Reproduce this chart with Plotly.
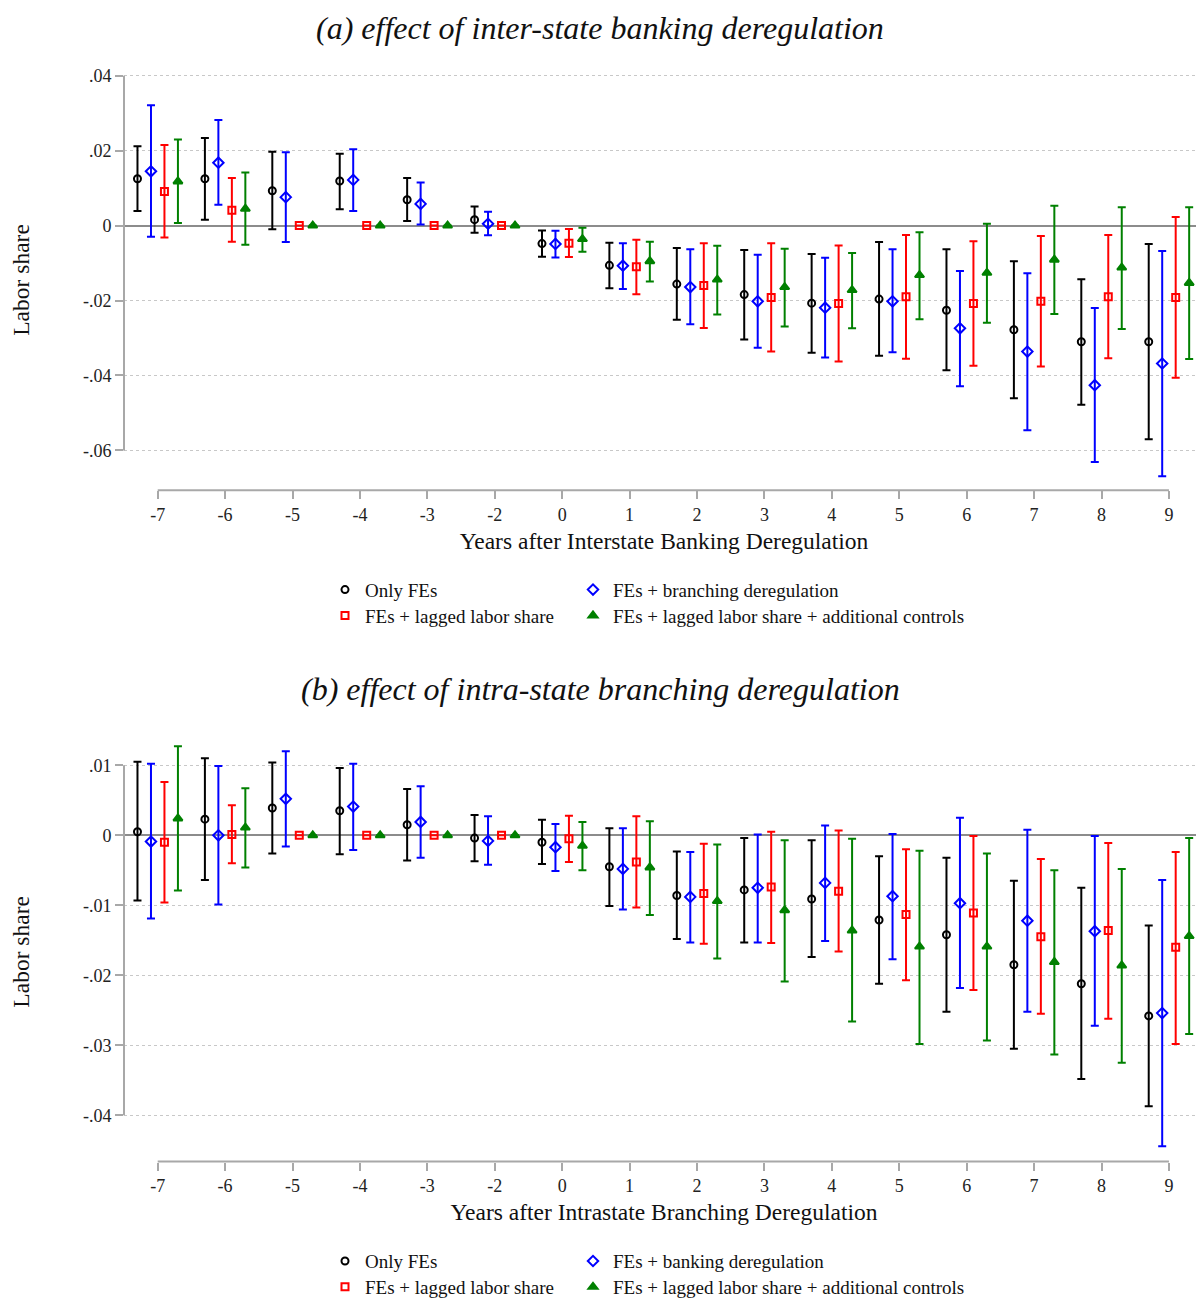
import plotly.graph_objects as go

# ---------------- data ----------------
labels = ["-7", "-6", "-5", "-4", "-3", "-2", "0", "1", "2", "3", "4", "5", "6", "7", "8", "9"]

# panel (a): inter-state banking deregulation
a_black = [0.0125, 0.0125, 0.0093, 0.0119, 0.0069, 0.0016, -0.0048, -0.0106, -0.0156, -0.0184, -0.0207, -0.0196, -0.0226, -0.0278, -0.0310, -0.0310]
a_black_lo = [0.0039, 0.0016, -0.0010, 0.0044, 0.0012, -0.0019, -0.0083, -0.0167, -0.0251, -0.0304, -0.0339, -0.0347, -0.0386, -0.0461, -0.0478, -0.0570]
a_black_hi = [0.0212, 0.0234, 0.0197, 0.0192, 0.0127, 0.0051, -0.0013, -0.0046, -0.0060, -0.0065, -0.0076, -0.0044, -0.0063, -0.0095, -0.0143, -0.0049]

a_blue = [0.0145, 0.0168, 0.0076, 0.0122, 0.0058, 0.0005, -0.0049, -0.0107, -0.0164, -0.0202, -0.0219, -0.0202, -0.0274, -0.0336, -0.0426, -0.0368]
a_blue_lo = [-0.0030, 0.0056, -0.0044, 0.0039, 0.0003, -0.0026, -0.0085, -0.0169, -0.0263, -0.0326, -0.0352, -0.0338, -0.0429, -0.0546, -0.0631, -0.0669]
a_blue_hi = [0.0321, 0.0282, 0.0196, 0.0204, 0.0115, 0.0037, -0.0014, -0.0047, -0.0063, -0.0078, -0.0086, -0.0063, -0.0121, -0.0127, -0.0220, -0.0068]

a_red = [0.0091, 0.0041, 0.0, 0.0, 0.0, 0.0, -0.0047, -0.0110, -0.0160, -0.0192, -0.0208, -0.0190, -0.0208, -0.0202, -0.0190, -0.0192]
a_red_lo = [-0.0032, -0.0043, None, None, None, None, -0.0084, -0.0183, -0.0273, -0.0336, -0.0363, -0.0355, -0.0374, -0.0376, -0.0354, -0.0406]
a_red_hi = [0.0215, 0.0127, None, None, None, None, -0.0009, -0.0038, -0.0047, -0.0047, -0.0053, -0.0025, -0.0042, -0.0028, -0.0025, 0.0023]

a_green = [0.0118, 0.0045, 0.0, 0.0, 0.0, 0.0, -0.0036, -0.0095, -0.0144, -0.0164, -0.0172, -0.0132, -0.0126, -0.0091, -0.0112, -0.0153]
a_green_lo = [0.0007, -0.0051, None, None, None, None, -0.0070, -0.0149, -0.0237, -0.0269, -0.0274, -0.0250, -0.0259, -0.0236, -0.0276, -0.0356]
a_green_hi = [0.0230, 0.0142, None, None, None, None, -0.0006, -0.0043, -0.0054, -0.0062, -0.0073, -0.0018, 0.0005, 0.0053, 0.0049, 0.0049]

# panel (b): intra-state branching deregulation
b_black = [0.0005, 0.0023, 0.0039, 0.0035, 0.0015, -0.0004, -0.0010, -0.0045, -0.0086, -0.0078, -0.0091, -0.0121, -0.0142, -0.0185, -0.0212, -0.0258]
b_black_lo = [-0.0093, -0.0064, -0.0026, -0.0027, -0.0036, -0.0037, -0.0041, -0.0101, -0.0148, -0.0153, -0.0174, -0.0212, -0.0252, -0.0305, -0.0348, -0.0387]
b_black_hi = [0.0105, 0.0110, 0.0104, 0.0096, 0.0066, 0.0029, 0.0022, 0.0010, -0.0023, -0.0004, -0.0007, -0.0030, -0.0032, -0.0065, -0.0075, -0.0129]

b_blue = [-0.0009, 0.0000, 0.0052, 0.0041, 0.0019, -0.0008, -0.0017, -0.0048, -0.0088, -0.0075, -0.0068, -0.0087, -0.0097, -0.0122, -0.0137, -0.0254]
b_blue_lo = [-0.0119, -0.0099, -0.0016, -0.0021, -0.0032, -0.0042, -0.0051, -0.0106, -0.0153, -0.0153, -0.0151, -0.0177, -0.0218, -0.0252, -0.0272, -0.0444]
b_blue_hi = [0.0102, 0.0099, 0.0120, 0.0102, 0.0070, 0.0027, 0.0016, 0.0010, -0.0024, 0.0001, 0.0014, 0.0002, 0.0025, 0.0008, -0.0001, -0.0064]

b_red = [-0.0010, 0.0001, 0.0, 0.0, 0.0, 0.0, -0.0005, -0.0038, -0.0083, -0.0074, -0.0080, -0.0113, -0.0111, -0.0145, -0.0136, -0.0160]
b_red_lo = [-0.0096, -0.0040, None, None, None, None, -0.0038, -0.0103, -0.0155, -0.0154, -0.0166, -0.0207, -0.0221, -0.0255, -0.0262, -0.0298]
b_red_hi = [0.0076, 0.0043, None, None, None, None, 0.0028, 0.0027, -0.0012, 0.0005, 0.0007, -0.0020, -0.0001, -0.0034, -0.0011, -0.0024]

b_green = [0.0024, 0.0011, 0.0, 0.0, 0.0, 0.0, -0.0015, -0.0046, -0.0094, -0.0107, -0.0136, -0.0159, -0.0159, -0.0181, -0.0186, -0.0144]
b_green_lo = [-0.0079, -0.0046, None, None, None, None, -0.0050, -0.0114, -0.0176, -0.0209, -0.0266, -0.0298, -0.0293, -0.0313, -0.0325, -0.0284]
b_green_hi = [0.0127, 0.0067, None, None, None, None, 0.0019, 0.0020, -0.0013, -0.0007, -0.0005, -0.0022, -0.0026, -0.0050, -0.0048, -0.0004]

a_names = ["Only FEs", "FEs + branching deregulation", "FEs + lagged labor share",
           "FEs + lagged labor share + additional controls"]
b_names = ["Only FEs", "FEs + banking deregulation", "FEs + lagged labor share",
           "FEs + lagged labor share + additional controls"]

a_yticks = [0.04, 0.02, 0.0, -0.02, -0.04, -0.06]
a_yticktext = [".04", ".02", "0", "-.02", "-.04", "-.06"]
b_yticks = [0.01, 0.0, -0.01, -0.02, -0.03, -0.04]
b_yticktext = [".01", "0", "-.01", "-.02", "-.03", "-.04"]

# ---------------- styles ----------------
FONT = "Liberation Serif"
colors = ["#000000", "#0000ff", "#ff0000", "#008000"]
symbols = ["circle-open", "diamond-open", "square-open", "triangle-up"]
msizes = [7, 8, 7, 8]
offsets = [-0.3, -0.1, 0.1, 0.3]
AXC = "#a8a8a8"

OFF = 8  # page body margin
W, H = 1204 - OFF, 1306 - OFF
def px_(p):
    return (p - OFF) / W
def py(p):
    return 1 - (p - OFF) / H

pos = list(range(1, len(labels) + 1))

fig = go.Figure()

# legend slots: left x of legend box, row y
leg_cols = [325, 573, 325, 573]
rows_a = [592, 592, 618, 618]
rows_b = [1266, 1266, 1292, 1292]

panels = [
    dict(xa="x", ya="y", series=[(a_black, a_black_lo, a_black_hi), (a_blue, a_blue_lo, a_blue_hi),
                                 (a_red, a_red_lo, a_red_hi), (a_green, a_green_lo, a_green_hi)],
         names=a_names, rows=rows_a, legbase=0),
    dict(xa="x2", ya="y2", series=[(b_black, b_black_lo, b_black_hi), (b_blue, b_blue_lo, b_blue_hi),
                                   (b_red, b_red_lo, b_red_hi), (b_green, b_green_lo, b_green_hi)],
         names=b_names, rows=rows_b, legbase=4),
]

legend_layouts = {}
for p in panels:
    for k, (est, lo, hi) in enumerate(p["series"]):
        plus = [None if h is None else h - e for e, h in zip(est, hi)]
        minus = [None if l is None else e - l for e, l in zip(est, lo)]
        n = p["legbase"] + k + 1
        lname = "legend" if n == 1 else "legend%d" % n
        legend_layouts[lname] = dict(
            orientation="h", xanchor="left", yanchor="middle", visible=True,
            x=px_(leg_cols[k]), y=py(p["rows"][k]),
            font=dict(family=FONT, size=19, color="#111"),
            bgcolor="rgba(0,0,0,0)", itemclick=False, itemdoubleclick=False)
        fig.add_trace(go.Scatter(
            x=[q + offsets[k] for q in pos], y=est, mode="markers",
            xaxis=p["xa"], yaxis=p["ya"], name=p["names"][k], legend=lname,
            showlegend=True,
            marker=dict(symbol=symbols[k], size=msizes[k], color=colors[k],
                        line=dict(width=2, color=colors[k])),
            error_y=dict(type="data", symmetric=False, array=plus, arrayminus=minus,
                         color=colors[k], thickness=2, width=4),
            hoverinfo="x+y",
        ))

xdom = [px_(124), 1.0]
xrange = [0.5, 16.52]

common_x = dict(range=xrange, tickmode="array", tickvals=pos, ticktext=labels,
                showgrid=False, zeroline=False, showline=False, ticks="outside",
                ticklen=8, tickwidth=1.5, tickcolor=AXC,
                tickfont=dict(family=FONT, size=18, color="#222"),
                title_font=dict(family=FONT, size=23.5, color="#111"),
                domain=xdom, automargin=False)
common_y = dict(showgrid=True, gridcolor="#c8c8c8", griddash="dot", gridwidth=1,
                zeroline=True, zerolinecolor="#8c8c8c", zerolinewidth=1.8,
                showline=False, ticks="outside", ticklen=8, tickwidth=1.5, tickcolor=AXC,
                tickfont=dict(family=FONT, size=18, color="#222"),
                title_font=dict(family=FONT, size=23.5, color="#111"),
                tickmode="array", automargin=False)

fig.update_layout(
    width=W, height=H, margin=dict(l=0, r=0, t=0, b=0),
    paper_bgcolor="white", plot_bgcolor="white", showlegend=True,
    font=dict(family=FONT, color="#111"),
    xaxis=dict(common_x, anchor="y", title=dict(text="Years after Interstate Banking Deregulation", standoff=8)),
    yaxis=dict(common_y, anchor="x", domain=[py(492), py(70)], range=[-0.0706, 0.0416],
               tickvals=a_yticks, ticktext=a_yticktext,
               title=dict(text="Labor share", standoff=50)),
    xaxis2=dict(common_x, anchor="y2", title=dict(text="Years after Intrastate Branching Deregulation", standoff=8)),
    yaxis2=dict(common_y, anchor="x2", domain=[py(1166), py(745)], range=[-0.0466, 0.0133],
                tickvals=b_yticks, ticktext=b_yticktext,
                title=dict(text="Labor share", standoff=50)),
    **legend_layouts,
)

# detached axis lines spanning the tick range
for xa, ya, yt in [("x", "y", a_yticks), ("x2", "y2", b_yticks)]:
    fig.add_shape(type="line", xref=xa, yref=ya + " domain", x0=pos[0], x1=pos[-1], y0=0, y1=0,
                  line=dict(color=AXC, width=2), layer="above")
    fig.add_shape(type="line", xref=xa + " domain", yref=ya, x0=0, x1=0, y0=min(yt), y1=max(yt),
                  line=dict(color=AXC, width=2), layer="above")

# panel titles
fig.add_annotation(text="<i>(a) effect of inter-state banking deregulation</i>", xref="paper", yref="paper",
                   x=px_(600), y=1.0, showarrow=False, font=dict(family=FONT, size=32, color="#111"),
                   xanchor="center", yanchor="top")
fig.add_annotation(text="<i>(b) effect of intra-state branching deregulation</i>", xref="paper", yref="paper",
                   x=px_(600), y=py(692), showarrow=False, font=dict(family=FONT, size=32, color="#111"),
                   xanchor="center", yanchor="middle")

fig.write_html("out.html")
